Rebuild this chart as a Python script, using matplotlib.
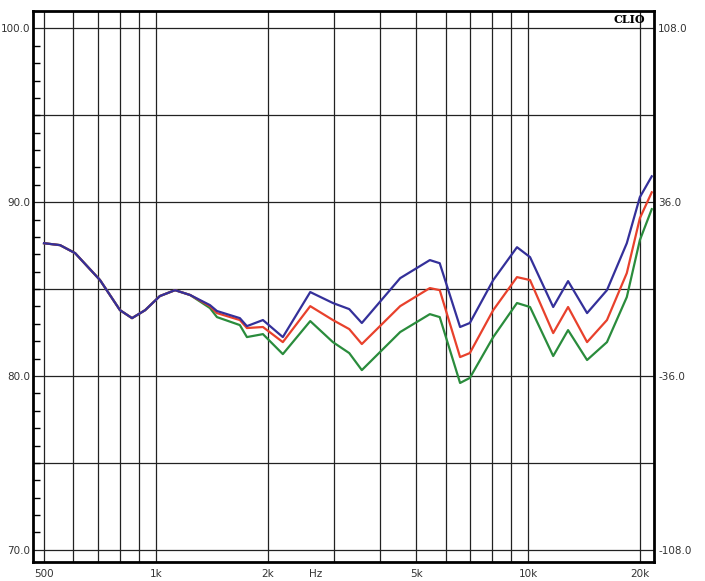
import matplotlib
matplotlib.use("Agg")
import matplotlib.pyplot as plt
import numpy as np
from matplotlib.ticker import FixedLocator, NullFormatter

# ---- data ---------------------------------------------------------------- #
freq = [500, 552, 606, 707, 800, 862, 935, 1024, 1125, 1235, 1396, 1458,
        1680, 1755, 1938, 2192, 2597, 2988, 3306, 3574, 4531, 5445, 5788,
        6565, 6973, 8060, 9337, 10122, 11682, 12809, 14407, 16294, 18422,
        19974, 21500]
common = [87.64, 87.53, 87.07, 85.52, 83.79, 83.33, 83.79, 84.60, 84.94, 84.66]
blue = common + [84.08, 83.74, 83.33, 82.87, 83.22, 82.24, 84.83, 84.20, 83.85,
                 83.05, 85.63, 86.67, 86.49, 82.82, 83.05, 85.52, 87.41, 86.84,
                 83.97, 85.46, 83.62, 84.94, 87.64, 90.29, 91.49]
red = common + [84.02, 83.62, 83.22, 82.76, 82.82, 81.95, 84.02, 83.22, 82.70,
                81.84, 84.02, 85.06, 84.94, 81.09, 81.32, 83.79, 85.69, 85.52,
                82.47, 83.97, 81.95, 83.22, 85.92, 89.08, 90.57]
green = common + [83.91, 83.39, 82.93, 82.24, 82.41, 81.26, 83.16, 81.95, 81.32,
                  80.34, 82.53, 83.56, 83.39, 79.60, 79.89, 82.24, 84.20, 83.97,
                  81.15, 82.64, 80.92, 81.95, 84.54, 87.82, 89.60]

vgrid = [500, 600, 700, 800, 900, 1000, 2000, 3000, 4000, 5000, 6000, 7000,
         8000, 9000, 10000, 20000]
xlabels = {500: "500", 1000: "1k", 2000: "2k", 2680: "Hz", 5000: "5k",
           10000: "10k", 20000: "20k"}
left_labels = [100, 90, 80, 70]
right_labels = ["108.0", "36.0", "-36.0", "-108.0"]

COL = {"blue": "#34309a", "red": "#e8412c", "green": "#2a8c3c"}

fig = plt.figure(figsize=(7.05, 5.81), dpi=100)
ax = fig.add_axes([33 / 705, 19 / 581, 621 / 705, 551 / 581])
ax.set_xscale("log")
ax.set_xlim(467, 21800)
ax.set_ylim(69.3, 101.0)

for f in vgrid:
    ax.axvline(f, color="#222", lw=0.9, zorder=1)
for y in range(70, 101, 5):
    ax.axhline(y, color="#222", lw=0.9, zorder=1)

for name, vals in (("green", green), ("red", red), ("blue", blue)):
    ax.plot(freq, vals, color=COL[name], lw=1.6, zorder=3)

for s in ax.spines.values():
    s.set_linewidth(2.0)

ax.xaxis.set_major_locator(FixedLocator(list(xlabels)))
ax.set_xticklabels(list(xlabels.values()))
ax.xaxis.set_minor_locator(FixedLocator([]))
ax.xaxis.set_minor_formatter(NullFormatter())
ax.tick_params(axis="x", length=0, labelsize=7.5, colors="#333", pad=5)

ax.yaxis.set_major_locator(FixedLocator(left_labels))
ax.set_yticklabels([f"{v:.1f}" for v in left_labels])
ax.yaxis.set_minor_locator(FixedLocator(np.arange(70, 101, 1)))
ax.tick_params(axis="y", which="major", length=0, labelsize=7.5, colors="#333", pad=2)
ax.tick_params(axis="y", which="minor", direction="in", length=5, width=1,
               left=True, right=True)

ax2 = ax.twinx()
ax2.set_ylim(ax.get_ylim())
ax2.yaxis.set_major_locator(FixedLocator(left_labels))
ax2.set_yticklabels(right_labels)
ax2.tick_params(axis="y", length=0, labelsize=7.5, colors="#333", pad=3)
for s in ax2.spines.values():
    s.set_visible(False)

ax.text(0.985, 0.995, "CLIO", transform=ax.transAxes, ha="right", va="top",
        fontsize=8, fontweight="bold", family="DejaVu Serif")

fig.savefig("out.png", dpi=100)
